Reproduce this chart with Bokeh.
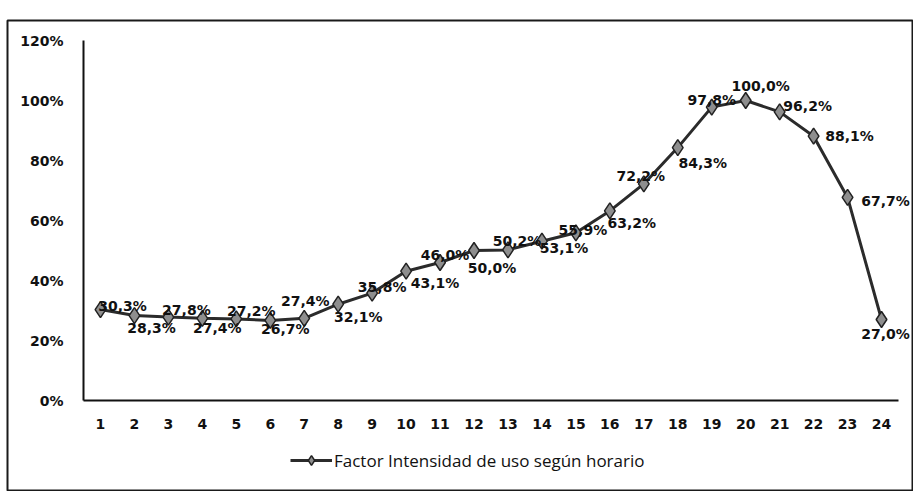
from bokeh.plotting import figure
from bokeh.models import (ColumnDataSource, FixedTicker, PrintfTickFormatter,
                          Legend, LegendItem)
from bokeh.core.properties import value
from bokeh.embed import file_html
from bokeh.resources import INLINE

# ---- data ----
hours = list(range(1, 25))
factor = [30.3, 28.3, 27.8, 27.4, 27.2, 26.7, 27.4, 32.1, 35.8, 43.1, 46.0, 50.0,
          50.2, 53.1, 55.9, 63.2, 72.2, 84.3, 97.8, 100.0, 96.2, 88.1, 67.7, 27.0]
y_ticks = [0, 20, 40, 60, 80, 100, 120]
series_name = "Factor Intensidad de uso según horario"

# label placement (screen px offsets, style only)
label_dx = [22, 17, 18, 15, 15, 15, 1, 20, 10, 29, 5, 18,
            9, 22, 7, 22, -3, 25, 0, 15, 28, 36, 38, 4]
label_dy = [-4, 12, -7, 10, -8, 9, -17, 13, -6, 12, -8, 17,
            -9, 7, -3, 12, -8, 15, -7, -15, -6, 0, 4, 14]

labels = [f"{v:.1f}".replace(".", ",") + "%" for v in factor]
src = ColumnDataSource(dict(x=hours, y=factor, lab=labels, dx=label_dx, dy=label_dy))

FONT = "DejaVu Sans"

# The frame is the whole outer box; axes sit inside it at fixed locations.
PX_X = 815 / 24.0   # px per category
PX_Y = 3.0          # px per percent
p = figure(width=907, height=472, output_backend="svg", toolbar_location=None,
           x_range=(0.5 - 76 / PX_X, 24.5 + 14 / PX_X),
           y_range=(-90 / PX_Y, 380 / PX_Y),
           min_border_left=1, min_border_right=1, min_border_top=1, min_border_bottom=1)
p.margin = (19, 0, 0, 6)

p.xgrid.visible = False
p.ygrid.visible = False
p.outline_line_color = "#1a1a1a"
p.outline_line_width = 2
p.background_fill_color = "white"
p.border_fill_color = "white"

for ax in (p.xaxis[0], p.yaxis[0]):
    ax.axis_line_color = "#111111"
    ax.axis_line_width = 2
    ax.major_tick_line_color = None
    ax.minor_tick_line_color = None
    ax.major_label_text_font = FONT
    ax.major_label_text_font_size = "14px"
    ax.major_label_text_font_style = "bold"
    ax.major_label_text_color = "#111111"

p.xaxis.ticker = FixedTicker(ticks=hours)
p.xaxis.major_label_standoff = 12
p.xaxis.fixed_location = 0
p.xaxis.bounds = (0.5, 24.5)
p.yaxis.ticker = FixedTicker(ticks=y_ticks)
p.yaxis.formatter = PrintfTickFormatter(format="%d%%")
p.yaxis.major_label_standoff = 14
p.yaxis.fixed_location = 0.5
p.yaxis.bounds = (0, 120)

ln = p.line("x", "y", source=src, line_color="#2b2b2b", line_width=3)
mk = p.scatter("x", "y", source=src, marker="diamond", size=16,
               fill_color="#8e8e8e", line_color="#222222", line_width=1.5)

p.text("x", "y", text="lab", source=src, x_offset="dx", y_offset="dy",
       text_align="center", text_baseline="middle",
       text_font=value(FONT), text_font_size="14px", text_font_style="bold",
       text_color="#111111")

legend = Legend(items=[LegendItem(label=series_name, renderers=[ln, mk])],
                location=(283, 18), orientation="horizontal",
                border_line_alpha=0, background_fill_alpha=0,
                glyph_width=42, glyph_height=24, label_standoff=2, padding=0, margin=0,
                label_text_font="Open Sans", label_text_font_size="17px",
                label_text_color="#111111")
p.add_layout(legend)

open("out.html", "w").write(file_html(p, INLINE))
